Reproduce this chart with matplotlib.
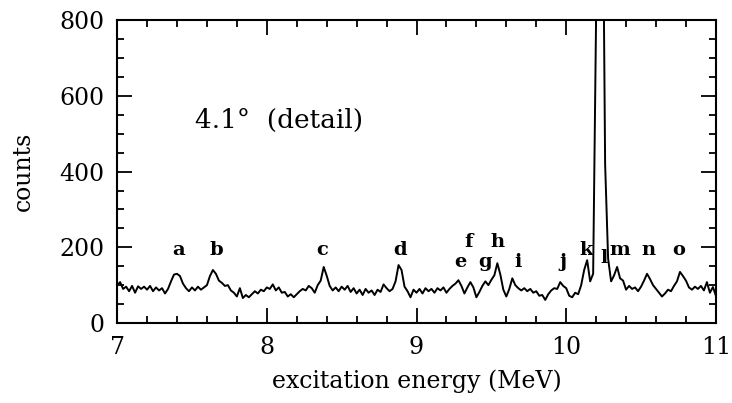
import numpy as np
import matplotlib
matplotlib.use("Agg")
import matplotlib.pyplot as plt
from matplotlib.ticker import MultipleLocator

# spectrum, bins of 0.02 MeV from 7.00 to 11.00
e_start, e_stop = 7.0, 11.0
counts = [
    100, 108, 90, 96, 84, 98, 80, 97, 90, 96,       # 7.00
    88, 98, 84, 94, 86, 92, 78, 90, 110, 128,       # 7.20
    130, 124, 104, 92, 84, 94, 86, 96, 88, 94,      # 7.40
    100, 124, 140, 130, 112, 106, 98, 100, 86, 80,  # 7.60
    70, 92, 66, 74, 68, 76, 84, 78, 88, 84,         # 7.80
    94, 90, 102, 86, 94, 80, 82, 70, 76, 68,        # 8.00
    76, 84, 90, 86, 98, 92, 80, 100, 112, 148,      # 8.20
    125, 98, 86, 94, 84, 96, 88, 98, 82, 92,        # 8.40
    78, 88, 74, 90, 80, 86, 74, 88, 82, 102,        # 8.60
    92, 84, 90, 110, 153, 140, 96, 84, 68, 88,      # 8.80
    80, 90, 78, 92, 84, 90, 80, 92, 86, 94,         # 9.00
    80, 90, 98, 104, 113, 98, 78, 94, 108, 94,      # 9.20
    68, 82, 98, 110, 100, 114, 126, 158, 128, 88,   # 9.40
    70, 90, 118, 100, 92, 86, 92, 84, 90, 80,       # 9.60
    84, 72, 74, 61, 76, 86, 92, 90, 108, 98,        # 9.80
    92, 72, 68, 80, 76, 100, 140, 166, 110, 130,    # 10.00
    820, 1500, 1400, 420, 170, 110, 126, 148, 118, 112,  # 10.20
    88, 98, 90, 94, 84, 96, 112, 130, 116, 100,     # 10.40
    90, 80, 70, 78, 88, 84, 98, 110, 135, 124,      # 10.60
    112, 94, 88, 96, 90, 98, 86, 108, 80, 95, 72,   # 10.80
]
energy = np.linspace(e_start, e_stop, len(counts))

peak_names = list("abcdefghijklmno")
peak_x = [7.41, 7.66, 8.37, 8.89, 9.29, 9.35, 9.46, 9.54, 9.68, 9.98,
          10.13, 10.25, 10.36, 10.55, 10.75]
peak_y = [193, 193, 193, 193, 161, 214, 161, 214, 161, 161,
          193, 172, 193, 193, 193]

plt.rcParams['font.family'] = ['DejaVu Serif']

fig = plt.figure(figsize=(7.32, 4.03), dpi=100)
ax = fig.add_axes([0.16, 0.1985, 0.818, 0.7515])

ax.plot(energy, counts, color='black', lw=1.4)

for name, x, y in zip(peak_names, peak_x, peak_y):
    ax.text(x, y, name, ha='center', va='center', fontsize=14,
            fontweight='bold')

ax.text(7.52, 535, '4.1°  (detail)', fontsize=19, va='center')

ax.set_xlim(7, 11)
ax.set_ylim(0, 800)
ax.xaxis.set_major_locator(MultipleLocator(1))
ax.xaxis.set_minor_locator(MultipleLocator(0.2))
ax.yaxis.set_major_locator(MultipleLocator(200))
ax.yaxis.set_minor_locator(MultipleLocator(50))
ax.tick_params(which='both', direction='in', top=True, right=True,
               labelsize=17, width=1.3)
ax.tick_params(which='major', length=11, pad=9)
ax.tick_params(which='minor', length=5)
for s in ax.spines.values():
    s.set_linewidth(1.5)

ax.set_xlabel('excitation energy (MeV)', fontsize=17, labelpad=8)
ax.set_ylabel('counts', fontsize=17, labelpad=18)

fig.savefig('out.png', dpi=100)
